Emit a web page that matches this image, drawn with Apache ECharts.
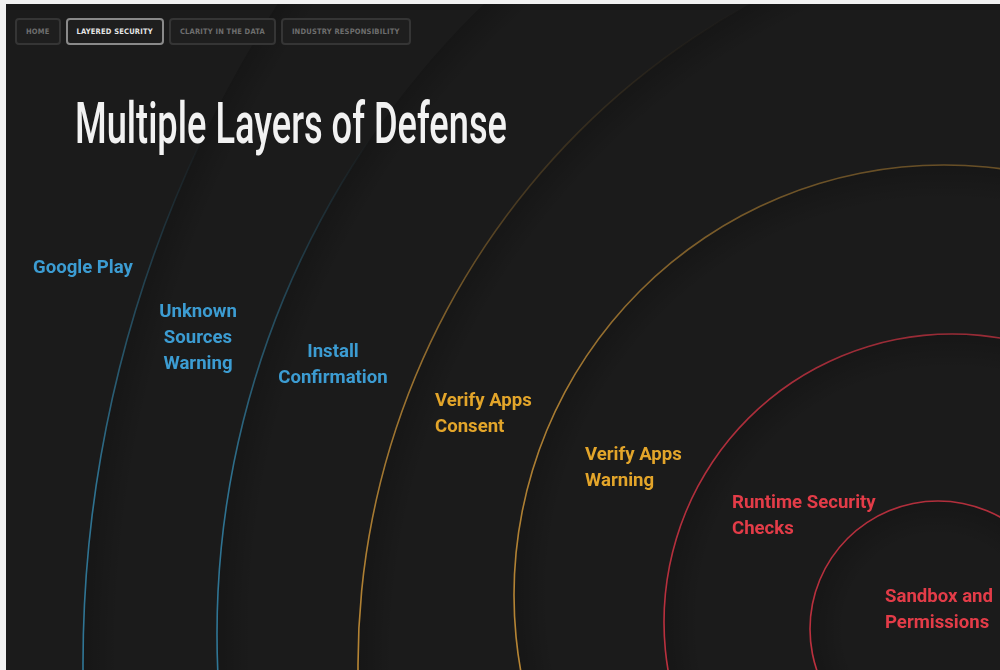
<!DOCTYPE html>
<html>
<head>
<meta charset="utf-8">
<script src="https://cdn.jsdelivr.net/npm/echarts@6/dist/echarts.min.js"></script>
<style>
  html, body { margin: 0; padding: 0; background: #f2f2f2; }
  #wrap { position: absolute; left: 6px; top: 4px; width: 994px; height: 666px; background: #1b1b1b; overflow: hidden; }
  #chart { position: absolute; left: 0; top: 0; width: 994px; height: 666px; }
  #nav { position: absolute; left: 9px; top: 14px; height: 27px; display: flex; gap: 5px; z-index: 2; }
  .btn { box-sizing: border-box; height: 27px; padding: 0 9px; border: 2px solid #353535; border-radius: 4px; background: #1e1e1e;
         color: #6e6e6e; font: 700 7.5px "Liberation Sans Narrow", "DejaVu Sans Condensed", Roboto, sans-serif; line-height: 23px;
         letter-spacing: 0.2px; white-space: nowrap; }
  .btn.active { border-color: #8a8a8a; color: #e6e6e6; }
  #title { position: absolute; left: 69px; top: 90px; z-index: 2; white-space: nowrap; color: #f2f2f2;
           font: 500 58px Roboto, "Noto Sans", sans-serif; line-height: 58px; transform-origin: 0 0; }
</style>
</head>
<body>
<div id="wrap">
  <div id="chart"></div>
  <div id="nav"></div>
  <div id="title"></div>
</div>
<script>
// ---------------- data ----------------
const pageTitle = 'Multiple Layers of Defense';
const navItems = ['HOME', 'LAYERED SECURITY', 'CLARITY IN THE DATA', 'INDUSTRY RESPONSIBILITY'];
const activeNav = 'LAYERED SECURITY';
// layers from outermost to innermost
const layers = ['Google Play', 'Unknown Sources Warning', 'Install Confirmation', 'Verify Apps Consent',
                'Verify Apps Warning', 'Runtime Security Checks', 'Sandbox and Permissions'];
const layerLines = [['Google Play'], ['Unknown', 'Sources', 'Warning'], ['Install', 'Confirmation'],
                    ['Verify Apps', 'Consent'], ['Verify Apps', 'Warning'], ['Runtime Security', 'Checks'],
                    ['Sandbox and', 'Permissions']];
const layerGroup = ['store', 'store', 'store', 'verify', 'verify', 'platform', 'platform'];

// ---------------- layout & style ----------------
const OFF = [6, 4]; // page offset of the chart area
const groupColors = {
  store:    { line: [47, 118, 150], text: '#3c9cd2' },
  verify:   { line: [184, 134, 52], text: '#e3a52a' },
  platform: { line: [188, 48, 62],  text: '#e33c48' }
};
// boundary ring geometry (page px) for layers 1..6 : [cx, cy, r]
const ringGeom = [
  [1300, 664, 1217],
  [1094, 634, 877],
  [1112, 665, 754],
  [944, 595, 430],
  [952, 622, 288],
  [938, 629, 128]
];
// label anchor (page px): [x, yOfFirstLineCenter, align]
const labelPos = [
  [33, 268, 'left'],
  [198, 312, 'center'],
  [333, 352, 'center'],
  [435, 401, 'left'],
  [585, 455, 'left'],
  [732, 503, 'left'],
  [885, 597, 'left']
];
const LINE_H = 26;

// ---------------- html chrome ----------------
const nav = document.getElementById('nav');
navItems.forEach(n => {
  const d = document.createElement('div');
  d.className = 'btn' + (n === activeNav ? ' active' : '');
  d.textContent = n;
  nav.appendChild(d);
});
const t = document.getElementById('title');
t.textContent = pageTitle;
const tw = t.getBoundingClientRect().width;
t.style.transform = 'scaleX(' + (432 / tw) + ')';

// ---------------- chart ----------------
const chart = echarts.init(document.getElementById('chart'), null, { renderer: 'canvas' });
const H = 666;
function rgba(c, a) { return 'rgba(' + c[0] + ',' + c[1] + ',' + c[2] + ',' + a + ')'; }

const series = [];
ringGeom.forEach((g, i) => {
  const layerIdx = i + 1;
  const col = groupColors[layerGroup[layerIdx]].line;
  const cx = g[0] - OFF[0], cy = g[1] - OFF[1], r = g[2];
  // inner shadow band
  series.push({
    type: 'pie', silent: true, animation: false, z: 1,
    center: [cx, cy], radius: [r - 34, r],
    label: { show: false }, labelLine: { show: false }, emphasis: { disabled: true },
    itemStyle: { borderWidth: 0, color: {
      type: 'radial', x: cx, y: cy, r: r, global: true,
      colorStops: [{ offset: (r - 34) / r, color: 'rgba(0,0,0,0)' }, { offset: 1, color: 'rgba(0,0,0,0.18)' }]
    } },
    data: [{ name: layers[layerIdx] + ' shade', value: 1 }]
  });
  let stops;
  if (layerIdx <= 2) {
    stops = [
      { offset: 0, color: rgba(col, 0) },
      { offset: 0.2, color: rgba(col, 0) },
      { offset: 0.3, color: rgba(col, 0.2) },
      { offset: 0.5, color: rgba(col, 0.6) },
      { offset: 0.72, color: rgba(col, 0.95) },
      { offset: 1, color: rgba(col, 1) }
    ];
  } else if (layerIdx === 3) {
    stops = [
      { offset: 0, color: rgba(col, 0) },
      { offset: 0.06, color: rgba(col, 0.05) },
      { offset: 0.3, color: rgba(col, 0.3) },
      { offset: 0.55, color: rgba(col, 0.8) },
      { offset: 1, color: rgba(col, 1) }
    ];
  } else {
    stops = [
      { offset: 0, color: rgba(col, 0.3) },
      { offset: 0.25, color: rgba(col, 0.5) },
      { offset: 0.6, color: rgba(col, 0.9) },
      { offset: 1, color: rgba(col, 1) }
    ];
  }
  series.push({
    type: 'pie', silent: true, animation: false, z: 2,
    center: [cx, cy], radius: [r - 0.8, r + 0.8],
    label: { show: false }, labelLine: { show: false }, emphasis: { disabled: true },
    itemStyle: { borderWidth: 0, color: {
      type: 'linear', x: 0, y: 0, x2: 0, y2: H, global: true, colorStops: stops
    } },
    data: [{ name: layers[layerIdx], value: 1 }]
  });
});

const graphics = layers.map((name, i) => {
  const p = labelPos[i];
  return {
    type: 'text', silent: true, z: 10,
    x: p[0] - OFF[0], y: p[1] - OFF[1] - LINE_H / 2,
    style: {
      text: layerLines[i].join('\n'),
      fill: groupColors[layerGroup[i]].text,
      font: '700 18.6px Roboto, "Liberation Sans", sans-serif',
      lineHeight: LINE_H,
      align: p[2], verticalAlign: 'top'
    }
  };
});

chart.setOption({
  backgroundColor: '#1b1b1b',
  animation: false,
  series: series,
  graphic: graphics
});
</script>
</body>
</html>
